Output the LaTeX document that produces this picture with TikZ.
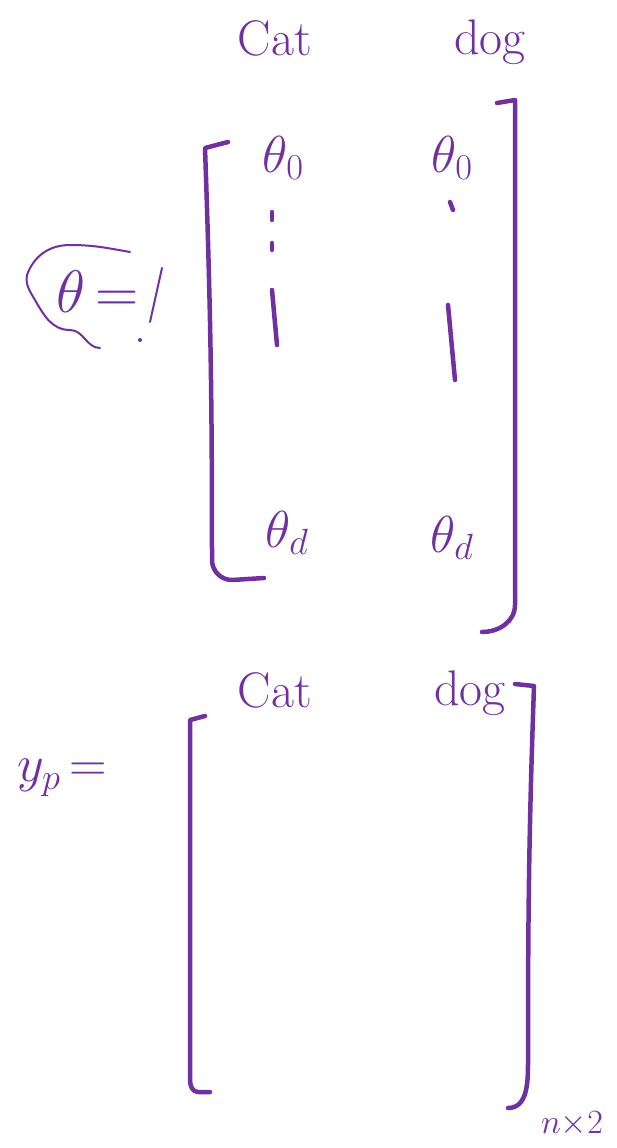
\RequirePackage{fix-cm}
\documentclass[tikz,border=0pt]{standalone}
\usepackage{tikz}
\usetikzlibrary{positioning}
\definecolor{penpurple}{RGB}{112,48,160}

\begin{document}
\begin{tikzpicture}[
    x=1pt, y=-1pt,
    every node/.style={text=penpurple},
    label/.style={font=\fontsize{50}{56}\selectfont},
    entry/.style={font=\fontsize{52}{58}\selectfont},
    big/.style={font=\fontsize{60}{66}\selectfont},
    small/.style={font=\fontsize{34}{38}\selectfont},
    stroke/.style={draw=penpurple, line width=4.5pt, line cap=round, line join=round},
    thin stroke/.style={draw=penpurple, line width=2pt, line cap=round}
]
\useasboundingbox (0,0) rectangle (616,1148);

% theta matrix
\node (cat1) [label] at (275,38) {Cat};
\node (dog1) [label] at (490,42) {dog};
\node (t01) [entry] at (283,158) {$\theta_0$};
\node (t02) [entry] at (452,158) {$\theta_0$};
\node (td1) [entry] at (287,533) {$\theta_d$};
\node (td2) [entry] at (452,538) {$\theta_d$};
\node (theta) [big] at (98,292) {$\theta\,{=}$};

\draw [stroke] (228,142) -- (205,148) to[out=-88,in=90] (212,560) to[out=-90,in=180] (232,580) -- (264,578);
\draw [stroke] (497,103) -- (515,100) to[out=-90,in=90] (515,605) to[out=-90,in=0] (482,632);
\draw [stroke] (272,212) -- (272,220);
\draw [stroke] (272,243) -- (272,250);
\draw [stroke] (272,290) -- (277,345);
\draw [stroke] (450,202) -- (453,210);
\draw [stroke] (448,305) -- (455,380);

% circle around theta
\draw [thin stroke] (130,252) to[out=170,in=0] (70,245) to[out=180,in=70] (27,275)
    to[out=-100,in=120] (35,300) to[out=-60,in=180] (70,330) to[out=0,in=180] (100,348);
\draw [thin stroke] (162,268) -- (150,322);
\fill [penpurple] (140,340) circle (2pt);

% y_p matrix
\node (cat2) [label] at (275,690) {Cat};
\node (dog2) [label] at (470,693) {dog};
\node (yp) [entry] at (62,778) {$y_p\,{=}$};
\node (dims) [small] at (572,1124) {$n{\times}2$};

\draw [stroke] (205,716) -- (190,720) -- (190,1080) to[out=-90,in=180] (198,1092) -- (210,1092);
\draw [stroke] (515,684) -- (534,686) to[out=-92,in=90] (528,1060) to[out=-90,in=0] (508,1108);
\end{tikzpicture}
\end{document}
